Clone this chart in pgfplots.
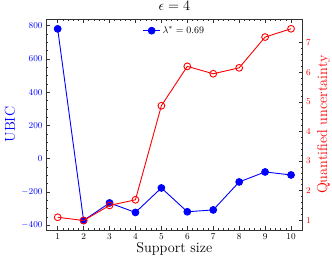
\documentclass[border=0pt]{standalone}
\usepackage{pgfplots}
\pgfplotsset{compat=1.18}
\begin{document}
\begin{tikzpicture}
\pgfplotsset{
  every axis/.append style={
    scale only axis, width=256.7bp, height=210.7bp,
    xmin=0.55, xmax=10.45,
    tick label style={font=\fontsize{9bp}{10bp}\selectfont},
    label style={font=\fontsize{14.3bp}{16bp}\selectfont},
    major tick length=3.5bp, minor tick length=2bp,
    axis line style={line width=0.8bp, black!80},
    every tick/.style={black!80, line width=0.6bp},
  }
}
\begin{axis}[at={(0,0)}, anchor=south west,
  ymin=-427.5, ymax=837.5,
  xtick={1,...,10}, minor x tick num=4,
  ytick={-400,-200,0,200,400,600,800}, minor y tick num=3,
  ytick pos=left, xtick pos=both,
  yticklabel style={blue},
  xlabel={Support size}, ylabel={UBIC},
  xlabel style={at={(axis description cs:0.5,-0.090)}, anchor=center},
  ylabel style={blue, at={(axis description cs:-0.140,0.5)}, anchor=center},
  title={$\epsilon = 4$},
  title style={at={(axis description cs:0.5,1.033)}, anchor=center, inner sep=0pt, font=\fontsize{14.5bp}{16bp}\selectfont},
  legend style={draw=none, fill=none, at={(axis description cs:0.50,0.946)}, anchor=center, font=\fontsize{10bp}{12bp}\selectfont},
]
\addplot[blue, line width=0.9bp, mark=*, mark size=3.4bp] coordinates {
(1,780) (2,-370) (3,-265) (4,-322) (5,-175) (6,-318) (7,-307) (8,-139) (9,-79) (10,-97)};
\addlegendentry{$\lambda^* = 0.69$}
\end{axis}
\begin{axis}[at={(0,0)}, anchor=south west,
  axis y line*=right, axis x line=none,
  ymin=0.67, ymax=7.79, ytick={1,...,7}, minor y tick num=4,
  yticklabel style={red},
  ylabel={Quantified uncertainty},
  ylabel style={red, at={(axis description cs:1.081,0.5)}, anchor=center},
]
\addplot[red, line width=0.9bp, mark=o, mark size=3.4bp, mark options={line width=0.9bp}] coordinates {
(1,1.10) (2,0.99) (3,1.50) (4,1.69) (5,4.87) (6,6.20) (7,5.95) (8,6.15) (9,7.19) (10,7.47)};
\end{axis}
\pgfresetboundingbox
\useasboundingbox (-46bp,-33bp) rectangle (286bp,230bp);
\end{tikzpicture}
\end{document}
